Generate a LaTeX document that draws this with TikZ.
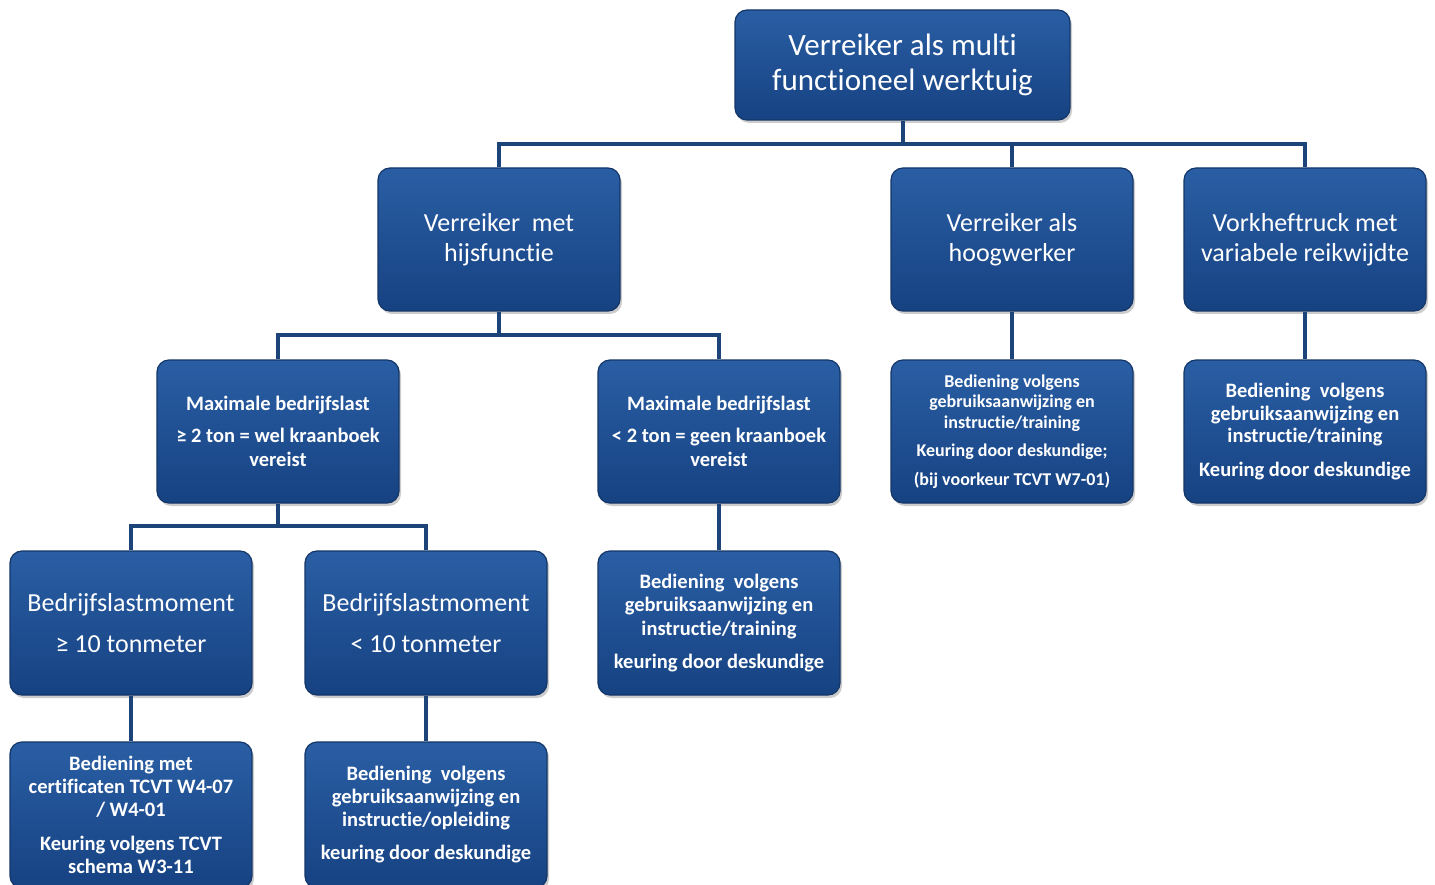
\documentclass[tikz,border=0pt]{standalone}
\usepackage{fontspec}
\setmainfont[Ligatures={NoCommon}]{Carlito}
\usetikzlibrary{shadows}
\definecolor{boxtop}{RGB}{42,94,164}
\definecolor{boxbot}{RGB}{22,66,130}
\definecolor{boxedge}{RGB}{20,54,104}
\definecolor{linec}{RGB}{28,68,120}
\newcommand{\fsz}[2]{\fontsize{#1}{#2}\selectfont}
\begin{document}
\begin{tikzpicture}[x=1pt,y=-1pt,
  box/.style={rectangle, rounded corners=12pt, top color=boxtop, bottom color=boxbot,
    draw=boxedge, line width=1.2pt, text=white, align=center, inner sep=0pt,
    drop shadow={shadow xshift=2pt, shadow yshift=-3pt, opacity=0.4}},
  wbox/.style={box, minimum width=242pt, minimum height=143pt},
  conn/.style={draw=linec, line width=4pt}]
\useasboundingbox (0,0) rectangle (1435,885);
% level 1
\node[box, minimum width=335pt, minimum height=110pt, font=\fsz{31}{35}] (top) at (902.5,65)
  {Verreiker als multi\\functioneel werktuig};
% level 2
\node[wbox, font=\fsz{26}{30}] (hijs) at (499,239.5) {Verreiker\ \ met\\hijsfunctie};
\node[wbox, font=\fsz{26}{30}] (hoog) at (1012,239.5) {Verreiker als\\hoogwerker};
\node[wbox, font=\fsz{26}{30}] (vork) at (1305,239.5) {Vorkheftruck met\\variabele reikwijdte};
% level 3
\node[wbox, font=\bfseries\fsz{20.5}{24}] (max1) at (278,431.5)
  {Maximale bedrijfslast\\[8pt]≥ 2 ton = wel kraanboek\\vereist};
\node[wbox, font=\bfseries\fsz{20.5}{24}] (max2) at (719,431.5)
  {Maximale bedrijfslast\\[8pt]< 2 ton = geen kraanboek\\vereist};
\node[wbox, font=\bfseries\fsz{18}{20.5}] (bedh) at (1012,431.5)
  {Bediening volgens\\gebruiksaanwijzing en\\instructie/training\\[8pt]Keuring door deskundige;\\[8pt](bij voorkeur TCVT W7-01)};
\node[wbox, font=\bfseries\fsz{20.5}{22.5}] (bedv) at (1305,431.5)
  {Bediening\ \ volgens\\gebruiksaanwijzing en\\instructie/training\\[11pt]Keuring door deskundige};
% level 4
\node[wbox, minimum height=144pt, font=\fsz{26}{30}] (blm1) at (131,623)
  {Bedrijfslastmoment\\[11pt]≥ 10 tonmeter};
\node[wbox, minimum height=144pt, font=\fsz{26}{30}] (blm2) at (426,623)
  {Bedrijfslastmoment\\[11pt]< 10 tonmeter};
\node[wbox, minimum height=144pt, font=\bfseries\fsz{20.5}{23.5}] (bed3) at (719,623)
  {Bediening\ \ volgens\\gebruiksaanwijzing en\\instructie/training\\[10pt]keuring door deskundige};
% level 5
\node[wbox, minimum height=146pt, font=\bfseries\fsz{20.5}{23}] (bot1) at (131,815)
  {Bediening met\\certificaten TCVT W4-07\\/ W4-01\\[11pt]Keuring volgens TCVT\\schema W3-11};
\node[wbox, minimum height=146pt, font=\bfseries\fsz{20.5}{23}] (bot2) at (426,815)
  {Bediening\ \ volgens\\gebruiksaanwijzing en\\instructie/opleiding\\[10pt]keuring door deskundige};
% connectors
\path (hijs.north) ++(0,-23) coordinate (bus1);
\draw[conn] (hijs.north) -- (bus1) -| (vork.north);
\draw[conn] (top.south) -- (top.south |- bus1);
\draw[conn] (hoog.north) -- (hoog.north |- bus1);
\path (max1.north) ++(0,-24) coordinate (bus2);
\draw[conn] (max1.north) -- (bus2) -| (max2.north);
\draw[conn] (hijs.south) -- (hijs.south |- bus2);
\draw[conn] (hoog.south) -- (bedh.north);
\draw[conn] (vork.south) -- (bedv.north);
\path (blm1.north) ++(0,-24) coordinate (bus3);
\draw[conn] (blm1.north) -- (bus3) -| (blm2.north);
\draw[conn] (max1.south) -- (max1.south |- bus3);
\draw[conn] (max2.south) -- (bed3.north);
\draw[conn] (blm1.south) -- (bot1.north);
\draw[conn] (blm2.south) -- (bot2.north);
\end{tikzpicture}
\end{document}
